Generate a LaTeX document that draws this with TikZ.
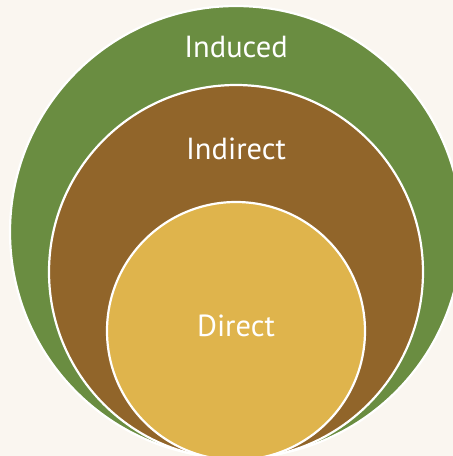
\documentclass[tikz,border=0pt]{standalone}
\usepackage{fontspec}
\setsansfont{PT Sans}
\usetikzlibrary{positioning}
\definecolor{paper}{HTML}{FAF6F0}
\definecolor{induced}{HTML}{6A8D41}
\definecolor{indirect}{HTML}{91652A}
\definecolor{direct}{HTML}{DFB44C}

\begin{document}
\begin{tikzpicture}[x=1pt, y=-1pt,
	ring/.style={draw=white, line width=2.2pt, circle, inner sep=0pt},
	lbl/.style={text=white, font=\sffamily\fontsize{30.5}{30.5}\selectfont}]
\useasboundingbox (0,0) rectangle (453,456);
\clip (0,0) rectangle (453,456);
\fill[paper] (0,0) rectangle (453,456);
% nested circles, all touching at the bottom
\node[ring, fill=induced, minimum size=452pt] (outer) at (236,232) {};
\node[ring, fill=indirect, minimum size=374pt] (middle) at (236,272) {};
\node[ring, fill=direct, minimum size=258pt] (inner) at (236,331) {};
% labels
\node[lbl] (t1) at (236,47) {Induced};
\node[lbl] (t2) at (236,149) {Indirect};
\node[lbl] (t3) at (236,326) {Direct};
\end{tikzpicture}
\end{document}
